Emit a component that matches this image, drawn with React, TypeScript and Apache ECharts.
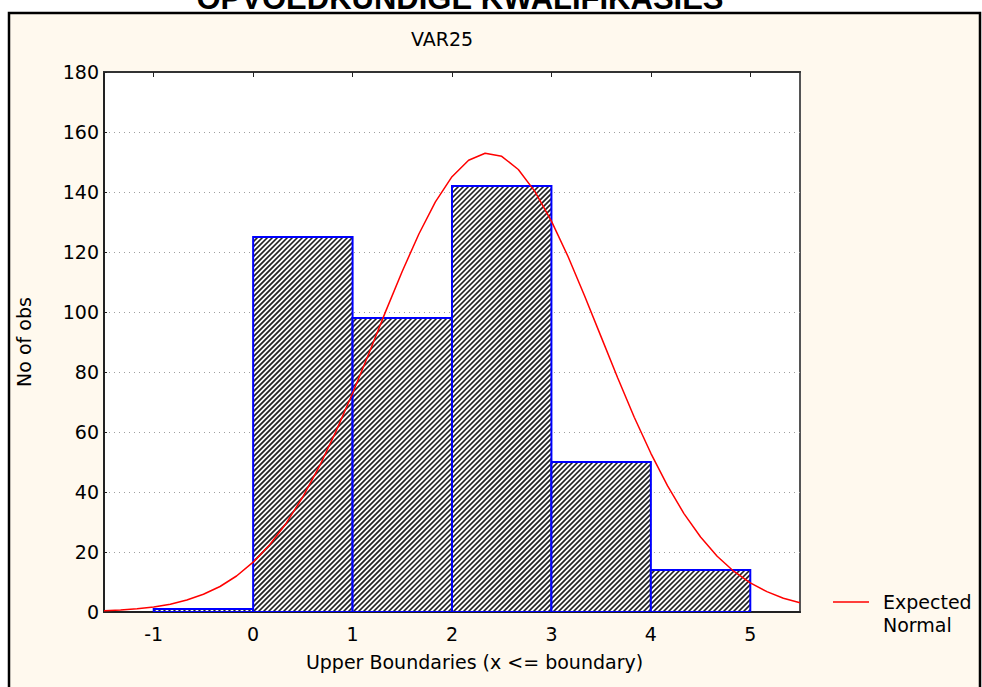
import React, { useEffect, useRef } from "react";
import * as echarts from "echarts";

const mainTitle = "OPVOEDKUNDIGE KWALIFIKASIES";
const subTitle = "VAR25";
const xAxisName = "Upper Boundaries (x <= boundary)";
const yAxisName = "No of obs";
const legendLines = ["Expected", "Normal"];

const binLower = [-1, 0, 1, 2, 3, 4];
const binUpper = [0, 1, 2, 3, 4, 5];
const counts = [1, 125, 98, 142, 50, 14];

const xTicks = [-1, 0, 1, 2, 3, 4, 5];

const curveX = [
  -1.5, -1.333, -1.167, -1, -0.833, -0.667, -0.5, -0.333, -0.167, 0, 0.167,
  0.333, 0.5, 0.667, 0.833, 1, 1.167, 1.333, 1.5, 1.667, 1.833, 2, 2.167,
  2.333, 2.5, 2.667, 2.833, 3, 3.167, 3.333, 3.5, 3.667, 3.833, 4, 4.167,
  4.333, 4.5, 4.667, 4.833, 5, 5.167, 5.333, 5.5,
];
const curveY = [
  0.4, 0.7, 1.1, 1.7, 2.6, 4.0, 5.9, 8.5, 12.0, 16.6, 22.4, 29.6, 38.4, 48.6,
  60.2, 72.9, 86.4, 100.2, 113.6, 126.0, 136.7, 145.1, 150.6, 152.9, 151.9,
  147.5, 140.2, 130.3, 118.5, 105.4, 91.7, 78.0, 64.9, 52.9, 42.1, 32.8, 25.0,
  18.6, 13.6, 9.7, 6.8, 4.6, 3.1,
];

const FONT = "DejaVu Sans";
const HATCH = 5;

export default function App() {
  const ref = useRef<HTMLDivElement>(null);

  useEffect(() => {
    if (!ref.current) return;
    const chart = echarts.init(ref.current, null, { renderer: "svg" });

    const barData = binLower.map((lo, i) => [lo, binUpper[i], counts[i]]);
    const lineData = curveX.map((x, i) => [x, curveY[i]]);

    const renderItem = (params: any, api: any) => {
      const lo = api.value(0);
      const hi = api.value(1);
      const c = api.value(2);
      const p0 = api.coord([lo, c]);
      const p1 = api.coord([hi, 0]);
      const x0 = p0[0];
      const y0 = p0[1];
      const x1 = p1[0];
      const y1 = p1[1];
      const children: any[] = [
        {
          type: "rect",
          shape: { x: x0, y: y0, width: x1 - x0, height: y1 - y0 },
          style: { fill: "#ffffff" },
        },
      ];
      for (
        let k = Math.ceil((x0 + y0) / HATCH) * HATCH;
        k <= x1 + y1;
        k += HATCH
      ) {
        const xa = Math.max(x0, k - y1);
        const xb = Math.min(x1, k - y0);
        if (xb - xa > 0.3) {
          children.push({
            type: "line",
            shape: { x1: xa, y1: k - xa, x2: xb, y2: k - xb },
            style: { stroke: "#222222", lineWidth: 1.7 },
          });
        }
      }
      children.push({
        type: "rect",
        shape: { x: x0, y: y0, width: x1 - x0, height: y1 - y0 },
        style: { fill: "none", stroke: "#0000ff", lineWidth: 2 },
      });
      return { type: "group", children };
    };

    const option: any = {
      animation: false,
      backgroundColor: "#ffffff",
      textStyle: { fontFamily: FONT },
      grid: {
        left: 104,
        right: 182,
        top: 72,
        bottom: 75,
        show: true,
        backgroundColor: "#ffffff",
        borderColor: "#555555",
        borderWidth: 2,
        containLabel: false,
      },
      xAxis: [
        {
          type: "value",
          min: -1.5,
          max: 5.5,
          splitLine: { show: false },
          axisLine: {
            show: true,
            onZero: false,
            lineStyle: { color: "#222", width: 2 },
          },
          axisTick: {
            show: true,
            inside: true,
            length: 4,
            customValues: xTicks,
            lineStyle: { color: "#222" },
          },
          axisLabel: {
            customValues: xTicks,
            color: "#000",
            fontFamily: FONT,
            fontSize: 19,
            margin: 12,
          },
          name: xAxisName,
          nameLocation: "middle",
          nameGap: 40,
          nameTextStyle: {
            color: "#000",
            fontFamily: FONT,
            fontSize: 19,
            padding: [0, 0, 0, 45],
          },
        },
        {
          type: "value",
          position: "top",
          min: -1.5,
          max: 5.5,
          splitLine: { show: false },
          axisLine: {
            show: true,
            onZero: false,
            lineStyle: { color: "#333", width: 2 },
          },
          axisTick: {
            show: true,
            inside: true,
            length: 5,
            customValues: xTicks,
            lineStyle: { color: "#222" },
          },
          axisLabel: { show: false },
        },
      ],
      yAxis: {
        type: "value",
        min: 0,
        max: 180,
        interval: 20,
        axisLine: {
          show: true,
          onZero: false,
          lineStyle: { color: "#222", width: 2 },
        },
        axisTick: {
          show: true,
          inside: true,
          length: 3,
          lineStyle: { color: "#222" },
        },
        axisLabel: {
          color: "#000",
          fontFamily: FONT,
          fontSize: 19,
          margin: 5,
        },
        splitLine: {
          show: true,
          lineStyle: { color: "#a0a0a0", type: [1, 4], width: 1 },
        },
        name: yAxisName,
        nameLocation: "middle",
        nameGap: 71,
        nameTextStyle: { color: "#000", fontFamily: FONT, fontSize: 19 },
      },
      graphic: [
        {
          type: "rect",
          z: -100,
          shape: { x: 9, y: 13, width: 971, height: 700 },
          style: { fill: "#fff9ee", stroke: "#000", lineWidth: 2.5 },
        },
        {
          type: "text",
          x: 460,
          y: -2,
          style: {
            text: mainTitle,
            fontFamily: "Liberation Sans",
            fontWeight: "bold",
            fontSize: 31,
            fill: "#000",
            textAlign: "center",
            textVerticalAlign: "middle",
          },
        },
        {
          type: "text",
          x: 442,
          y: 39,
          style: {
            text: subTitle,
            fontFamily: FONT,
            fontSize: 19,
            fill: "#000",
            textAlign: "center",
            textVerticalAlign: "middle",
          },
        },
        {
          type: "line",
          shape: { x1: 833, y1: 602, x2: 869, y2: 602 },
          style: { stroke: "#ff0000", lineWidth: 1.5 },
        },
        {
          type: "text",
          x: 883,
          y: 602,
          style: {
            text: legendLines[0],
            fontFamily: FONT,
            fontSize: 19,
            fill: "#000",
            textAlign: "left",
            textVerticalAlign: "middle",
          },
        },
        {
          type: "text",
          x: 883,
          y: 625,
          style: {
            text: legendLines[1],
            fontFamily: FONT,
            fontSize: 19,
            fill: "#000",
            textAlign: "left",
            textVerticalAlign: "middle",
          },
        },
      ],
      series: [
        {
          type: "custom",
          name: "Observed",
          renderItem,
          encode: { x: [0, 1], y: 2 },
          data: barData,
          clip: true,
          z: 2,
        },
        {
          type: "line",
          name: "Expected Normal",
          data: lineData,
          showSymbol: false,
          symbol: "none",
          smooth: false,
          clip: true,
          z: 5,
          lineStyle: { color: "#ff0000", width: 1.5 },
        },
      ],
    };

    chart.setOption(option);
    return () => {
      chart.dispose();
    };
  }, []);

  return (
    <div
      ref={ref}
      style={{
        position: "fixed",
        left: 0,
        top: 0,
        width: 982,
        height: 687,
      }}
    />
  );
}
